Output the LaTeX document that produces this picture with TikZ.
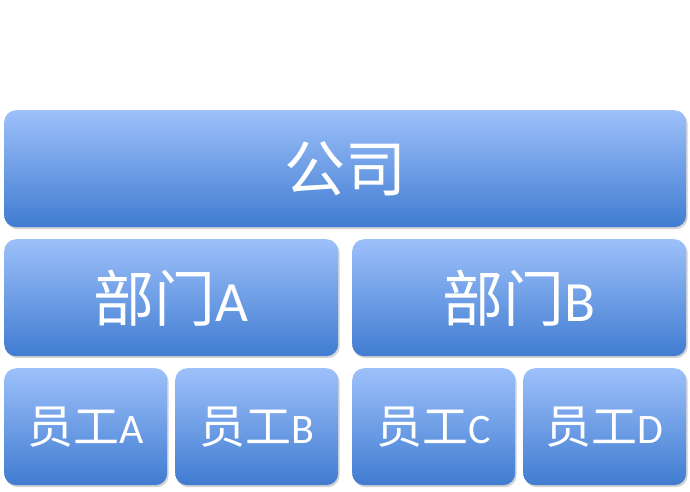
\documentclass[tikz,border=0pt]{standalone}
\usepackage{fontspec}
\setmainfont{Carlito}
\newfontfamily\cjk{Noto Sans CJK SC}
\usetikzlibrary{shadows}
\definecolor{boxtop}{RGB}{157,192,250}
\definecolor{boxbottom}{RGB}{64,124,209}
% CJK text in a given size
\newcommand{\zh}[2]{{\cjk\fontsize{#1}{#1}\selectfont #2}}

\begin{document}
\begin{tikzpicture}[
    x=1pt, y=-1pt,
    box/.style={anchor=north west, rounded corners=12pt, inner sep=0pt,
      top color=boxtop, bottom color=boxbottom, text=white,
      drop shadow={shadow xshift=1.5pt, shadow yshift=-2pt, opacity=0.35}},
    level0/.style={box, minimum width=682pt, minimum height=117pt},
    level1/.style={box, minimum width=334pt, minimum height=117pt, font=\fontsize{57}{60}\selectfont},
    level2/.style={box, minimum width=163pt, minimum height=117pt, font=\fontsize{42}{46}\selectfont}
  ]

  \useasboundingbox (0,0) rectangle (690,491);

  % Top level
  \node[level0] (company) at (4,110) {\zh{61}{公司}};

  % Departments
  \node[level1] (deptA) at (4,239) {\zh{61}{部门}A};
  \node[level1] (deptB) at (352,239) {\zh{61}{部门}B};

  % Staff
  \node[level2] (staffA) at (4,368) {\zh{46}{员工}A};
  \node[level2] (staffB) at (175,368) {\zh{46}{员工}B};
  \node[level2] (staffC) at (352,368) {\zh{46}{员工}C};
  \node[level2] (staffD) at (523,368) {\zh{46}{员工}D};

\end{tikzpicture}
\end{document}
